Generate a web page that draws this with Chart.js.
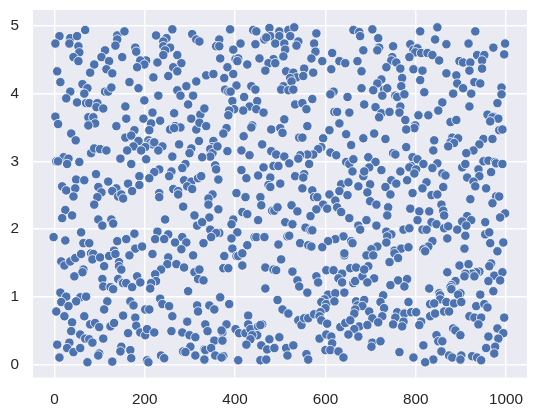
<!DOCTYPE html>
<html><head><meta charset="utf-8">
<script src="https://cdn.jsdelivr.net/npm/chart.js@4"></script>
<style>html,body{margin:0;padding:0;background:#fff}canvas{display:block}</style>
</head><body><canvas id="c" width="537" height="416"></canvas>
<script>
const xTop = [68,11,2,35,33,50,53,55,42,53,139,155,139,135,112,104,121,88,115,79,128,150,179,181,225,261,248,241,241,256,245,241,272,228,281,203,190,199,183,263,272,219,252,305,314,321,6,13,62,73,66,35,26,50,70,77,95,93,108,112,119,126,166,186,230,199,272,279,292,307,314,296,157,217,265,303,323,2,8,75,86,90,75,159,197,234,214,137,177,210,256,267,279,265,314,321,
389,440,447,476,498,518,531,580,478,498,465,469,522,365,358,365,412,445,489,509,540,536,575,511,396,578,662,675,677,684,615,367,401,407,405,454,485,474,489,507,569,593,427,631,644,671,383,613,467,513,529,553,573,680,336,352,396,376,536,551,522,525,403,436,445,378,385,390,507,502,518,529,680,618,611,649,420,571,394,449,533,549,432,447,558,418,398,387,385,463,332,620,626,653,686,509,336,381,438,436,480,500,560,631,609,
704,717,719,715,750,788,810,848,843,868,932,917,998,972,996,795,804,799,812,826,837,786,748,746,757,852,936,952,947,897,905,921,735,766,795,815,919,947,868,890,770,810,724,715,892,930,943,768,706,730,737,905,990,819,990,726,755,759,775,883,923,981,711,859,766,919,724,719,742,764,850,806,828,959,972,970,983,965,777,877,890,799,797,779,985,992];
const yTop = [4.94,4.85,4.74,4.82,4.74,4.85,4.70,4.61,4.54,4.48,4.86,4.92,4.80,4.71,4.64,4.54,4.48,4.43,4.36,4.31,4.30,4.54,4.68,4.62,4.86,4.95,4.82,4.77,4.70,4.68,4.64,4.57,4.57,4.46,4.45,4.49,4.49,4.43,4.39,4.39,4.33,4.24,4.26,4.88,4.80,4.77,4.33,4.17,4.14,4.08,4.00,4.03,3.93,3.87,3.86,3.86,3.86,3.80,3.78,4.03,4.03,4.09,4.17,4.08,3.97,3.90,4.05,3.97,4.11,3.97,4.18,3.84,3.81,3.72,3.71,3.63,3.69,3.66,3.55,3.65,3.65,3.56,3.53,3.63,3.63,3.60,3.56,3.52,3.46,3.46,3.47,3.52,3.50,3.49,3.47,3.57,
4.95,4.94,4.92,4.97,4.92,4.94,4.98,4.89,4.85,4.85,4.80,4.83,4.85,4.80,4.70,4.70,4.74,4.73,4.74,4.74,4.77,4.71,4.74,4.65,4.65,4.62,4.94,4.91,4.85,4.64,4.60,4.52,4.51,4.52,4.48,4.52,4.51,4.45,4.45,4.55,4.52,4.48,4.43,4.48,4.45,4.48,4.39,4.36,4.34,4.33,4.31,4.37,4.31,4.33,4.27,4.29,4.29,4.23,4.24,4.26,4.23,4.18,4.12,4.11,4.06,4.06,4.03,4.03,4.11,4.06,4.05,4.06,4.08,4.03,3.99,3.95,3.95,3.92,3.89,3.89,3.84,3.86,3.81,3.77,3.77,3.75,3.77,3.75,3.68,3.72,3.78,3.73,3.73,3.72,3.84,3.62,3.52,3.49,3.53,3.50,3.47,3.49,3.52,3.56,3.46,
4.95,4.82,4.68,4.64,4.70,4.73,4.92,4.98,4.80,4.73,4.92,4.74,4.74,4.68,4.58,4.65,4.67,4.61,4.60,4.60,4.57,4.54,4.54,4.49,4.46,4.49,4.57,4.57,4.49,4.48,4.46,4.46,4.39,4.37,4.36,4.34,4.34,4.37,4.30,4.27,4.23,4.20,4.21,4.15,4.15,4.17,4.15,4.11,4.05,4.06,4.08,4.08,4.09,4.02,3.99,3.97,3.97,3.95,3.99,4.00,4.00,3.86,3.80,3.87,3.81,3.81,3.71,3.65,3.73,3.72,3.75,3.68,3.68,3.69,3.66,3.65,3.63,3.59,3.61,3.58,3.61,3.53,3.49,3.47,3.46,3.47];

const xMid = [37,47,157,170,186,175,161,208,212,217,221,201,192,239,230,276,303,299,261,320,81,88,101,115,146,203,20,4,8,31,28,55,170,290,283,259,254,232,221,210,188,92,48,66,119,17,26,46,42,97,104,95,88,163,188,137,128,141,148,152,172,232,232,263,274,274,287,303,294,305,318,285,24,39,17,97,126,130,106,245,310,316,59,-2,24,64,77,139,159,177,228,252,223,243,283,292,267,179,194,281,132,
419,352,350,345,350,345,361,327,383,414,432,460,505,374,646,595,542,549,657,591,584,573,560,544,540,611,624,480,491,509,520,564,646,653,662,660,684,356,358,414,463,485,496,451,425,478,533,553,551,325,363,474,478,500,549,571,635,651,673,631,649,609,403,423,456,458,350,341,341,575,582,622,595,604,626,635,580,525,538,363,416,427,482,487,494,567,653,343,396,392,451,511,527,327,556,567,571,345,405,673,677,365,358,347,392,443,447,465,516,520,640,622,606,657,660,330,496,544,562,569,427,593,394,
708,733,684,841,779,839,881,894,877,885,872,950,970,941,928,912,695,711,697,686,724,750,755,793,804,817,790,786,801,797,848,837,766,746,757,781,824,815,859,866,903,910,950,961,976,978,992,939,967,941,914,928,932,956,699,733,693,744,793,861,835,848,921,978,985,970,699,713,739,737,788,808,830,857,861,863,998,987,914,903,923,912,804,835,846,954,691,713,773,786,815,824,863,872,892,735,746,737,735,837,870,910,954,963,965,994,715,702,753,768,784,828,817,821,908,981];
const yMid = [3.41,3.31,3.35,3.38,3.30,3.22,3.16,3.31,3.27,3.25,3.28,3.21,3.16,3.22,3.16,3.25,3.19,3.12,3.07,3.30,3.12,3.19,3.18,3.16,3.04,3.03,3.06,3.00,3.00,3.04,2.96,2.99,2.96,2.96,2.90,2.85,2.78,2.88,2.84,2.75,2.78,2.81,2.73,2.72,2.70,2.63,2.57,2.60,2.48,2.62,2.54,2.47,2.36,2.67,2.65,2.60,2.56,2.48,2.51,2.45,2.56,2.53,2.47,2.59,2.56,2.51,2.72,2.70,2.63,2.59,2.75,2.33,2.28,2.20,2.16,2.14,2.14,2.08,2.05,2.14,2.20,2.05,1.95,1.88,1.83,1.79,1.79,1.82,1.85,1.93,1.96,1.92,1.85,1.85,1.88,1.80,1.80,1.71,1.74,1.70,1.68,
3.37,3.30,3.21,3.18,3.12,3.07,3.22,3.06,3.15,3.16,3.09,3.25,3.42,3.41,3.40,3.34,3.35,3.35,3.24,3.21,3.18,3.10,3.10,3.09,3.04,3.13,3.09,3.15,3.10,3.07,2.97,2.96,2.99,2.96,3.03,2.85,2.78,2.94,2.88,2.87,2.91,2.93,2.93,2.79,2.75,2.76,2.78,2.81,2.76,2.78,2.73,2.65,2.62,2.67,2.60,2.57,2.66,2.69,2.63,2.56,2.50,2.51,2.53,2.47,2.47,2.35,2.51,2.45,2.36,2.47,2.47,2.42,2.36,2.30,2.32,2.25,2.29,2.35,2.26,2.29,2.25,2.22,2.27,2.27,2.32,2.19,2.16,2.17,2.14,2.07,2.13,2.10,2.07,2.10,2.02,1.98,1.98,1.99,1.95,2.05,1.99,1.94,1.94,1.88,1.86,1.88,1.88,1.88,1.89,1.90,1.89,1.85,1.82,1.82,1.79,1.79,1.77,1.79,1.76,1.74,1.76,1.73,1.71,
3.41,3.33,3.34,3.31,3.21,3.16,3.35,3.34,3.28,3.27,3.22,3.33,3.33,3.25,3.16,3.12,3.06,2.99,2.91,2.85,2.87,3.12,3.10,3.06,3.03,2.96,2.93,2.91,2.88,2.82,2.97,2.90,2.85,2.72,2.67,2.72,2.69,2.60,2.82,2.79,2.91,2.96,3.00,3.01,2.99,2.97,2.96,2.88,2.84,2.78,2.76,2.70,2.63,2.60,2.66,2.62,2.54,2.51,2.53,2.62,2.50,2.51,2.44,2.48,2.48,2.38,2.41,2.36,2.32,2.20,2.30,2.26,2.26,2.36,2.27,2.20,2.23,2.17,2.19,2.11,2.13,2.05,2.13,2.10,2.07,2.10,2.13,2.05,1.99,2.01,1.99,1.99,2.01,2.04,1.99,1.96,1.92,1.89,1.80,1.82,1.86,1.90,1.92,1.95,1.79,1.80,1.74,1.70,1.68,1.71,1.73,1.74,1.70,1.67,1.71,1.67];

const xLow = [15,22,35,46,59,81,86,84,101,121,135,166,217,252,307,143,143,148,110,250,270,287,236,223,310,321,318,183,64,62,44,106,141,108,124,130,150,152,159,172,190,225,214,212,296,13,26,57,48,70,15,31,117,110,168,175,234,239,254,316,318,4,22,201,210,261,66,152,179,39,79,90,99,124,132,181,294,37,163,190,201,205,221,259,283,299,312,57,68,77,84,108,6,33,28,42,57,148,146,168,301,285,290,99,97,11,170,236,243,312,73,128,205,208,
376,403,407,416,502,642,642,374,385,416,467,485,491,527,580,584,538,542,602,618,655,668,637,629,637,662,666,682,330,467,560,606,622,642,598,591,602,620,600,668,686,671,682,666,664,367,387,343,354,494,505,518,429,540,547,553,562,575,589,587,591,604,334,339,381,401,409,423,429,434,451,460,456,372,370,449,438,434,425,498,476,633,644,655,675,664,651,673,587,602,613,615,354,372,458,471,487,513,529,600,611,629,332,334,347,516,558,562,640,356,374,370,332,407,456,469,
691,706,753,761,742,695,686,708,693,897,917,967,963,870,941,934,925,910,908,930,974,992,961,987,888,879,877,879,761,781,744,775,830,972,943,728,722,730,697,784,852,854,854,899,894,868,885,901,832,841,934,952,959,704,726,717,693,759,755,775,790,801,773,750,770,812,808,832,843,863,874,919,930,945,996,939,883,888,899,846,850,859,981,994,961,983,704,702,722,817,976,956,857,974,764,874,881,901,899,925,936,945,795,839,821];
const yLow = [1.52,1.46,1.52,1.57,1.63,1.64,1.63,1.55,1.58,1.60,1.63,1.61,1.63,1.58,1.61,1.51,1.45,1.40,1.45,1.48,1.48,1.43,1.40,1.33,1.36,1.40,1.26,1.30,1.40,1.36,1.30,1.26,1.26,1.15,1.14,1.11,1.21,1.20,1.20,1.14,1.21,1.23,1.20,1.12,1.08,1.06,1.00,0.99,0.93,1.00,0.92,0.86,0.93,0.81,0.93,0.87,0.97,0.89,0.86,0.87,0.78,0.78,0.71,0.81,0.81,0.71,0.71,0.72,0.69,0.62,0.59,0.61,0.55,0.56,0.61,0.57,0.63,0.49,0.46,0.47,0.43,0.52,0.47,0.49,0.47,0.43,0.40,0.44,0.38,0.37,0.32,0.38,0.29,0.32,0.24,0.18,0.24,0.26,0.19,0.21,0.26,0.19,0.18,0.16,0.13,0.10,0.09,0.13,0.09,0.13,0.03,0.04,0.06,0.03,
1.60,1.60,1.60,1.64,1.55,1.61,1.64,1.42,1.42,1.46,1.43,1.40,1.39,1.37,1.30,1.21,1.24,1.15,1.39,1.39,1.42,1.43,1.34,1.27,1.21,1.20,1.23,1.30,1.24,1.12,1.06,1.03,1.05,1.06,0.96,0.92,0.89,0.93,0.83,0.93,0.95,0.87,0.86,0.81,0.75,0.99,0.89,0.87,0.81,0.95,0.81,0.75,0.72,0.65,0.58,0.68,0.68,0.74,0.77,0.71,0.65,0.60,0.59,0.49,0.59,0.52,0.46,0.46,0.59,0.52,0.56,0.59,0.58,0.47,0.50,0.43,0.43,0.37,0.29,0.40,0.37,0.55,0.61,0.65,0.56,0.52,0.44,0.41,0.38,0.44,0.41,0.31,0.35,0.35,0.28,0.22,0.24,0.24,0.28,0.21,0.21,0.19,0.22,0.21,0.24,0.13,0.15,0.07,0.10,0.13,0.12,0.10,0.07,0.06,0.06,0.07,
1.61,1.61,1.64,1.57,1.51,1.45,1.40,1.27,1.21,1.46,1.48,1.49,1.45,1.36,1.37,1.36,1.34,1.34,1.30,1.30,1.31,1.36,1.23,1.24,1.23,1.17,1.14,1.11,1.24,1.26,1.17,1.15,1.12,1.08,1.03,1.02,0.92,0.83,0.78,0.92,1.05,1.02,0.96,1.05,1.03,0.92,0.90,0.92,0.89,0.90,0.86,0.89,0.84,0.68,0.71,0.62,0.58,0.77,0.69,0.75,0.77,0.77,0.63,0.59,0.56,0.63,0.58,0.71,0.75,0.78,0.78,0.71,0.69,0.69,0.69,0.59,0.53,0.50,0.43,0.43,0.34,0.34,0.53,0.46,0.41,0.38,0.32,0.26,0.34,0.28,0.26,0.24,0.19,0.16,0.18,0.13,0.10,0.13,0.07,0.12,0.10,0.06,0.10,0.07,0.03];

const xTicks = [0,200,400,600,800,1000];
const yTicks = [0,1,2,3,4,5];
const xValues = xTop.concat(xMid, xLow);
const yValues = yTop.concat(yMid, yLow);

const font = {family:'"Liberation Sans", Arial, sans-serif', size:15.3};
new Chart(document.getElementById('c'), {
  type:'scatter',
  data:{datasets:[{
    data:xValues.map((x,i)=>({x:x,y:yValues[i]})),
    backgroundColor:'#4C72B0', borderColor:'#ffffff', borderWidth:0.8, pointRadius:4.7, pointHoverRadius:4.7
  }]},
  plugins:[{id:'bg',beforeDraw(ch){const a=ch.chartArea,c=ch.ctx;c.save();c.fillStyle='#EAEAF2';c.fillRect(a.left,a.top,a.right-a.left,a.bottom-a.top);c.restore();}}],
  options:{
    responsive:false, animation:false,
    layout:{padding:{left:0,right:10,top:10,bottom:0}},
    plugins:{legend:{display:false},tooltip:{enabled:false}},
    scales:{
      x:{type:'linear',min:-47.6,max:1046.5,
        afterBuildTicks(s){s.ticks=xTicks.map(v=>({value:v}));},
        afterFit(s){s.height=38.5;s.paddingLeft=0;s.paddingRight=0;s.paddingTop=0;s.paddingBottom=0;},
        border:{display:false},
        grid:{color:'#ffffff',lineWidth:1.4,drawTicks:false},
        ticks:{color:'#262626',font,padding:13,maxRotation:0,callback:v=>String(v)}},
      y:{type:'linear',min:-0.195,max:5.236,
        afterBuildTicks(s){s.ticks=yTicks.map(v=>({value:v}));},
        afterFit(s){s.width=33;s.paddingLeft=0;s.paddingRight=0;s.paddingTop=0;s.paddingBottom=0;},
        border:{display:false},
        grid:{color:'#ffffff',lineWidth:1.4,drawTicks:false},
        ticks:{color:'#262626',font,padding:14,callback:v=>String(v)}}
    }
  }
});
</script></body></html>
